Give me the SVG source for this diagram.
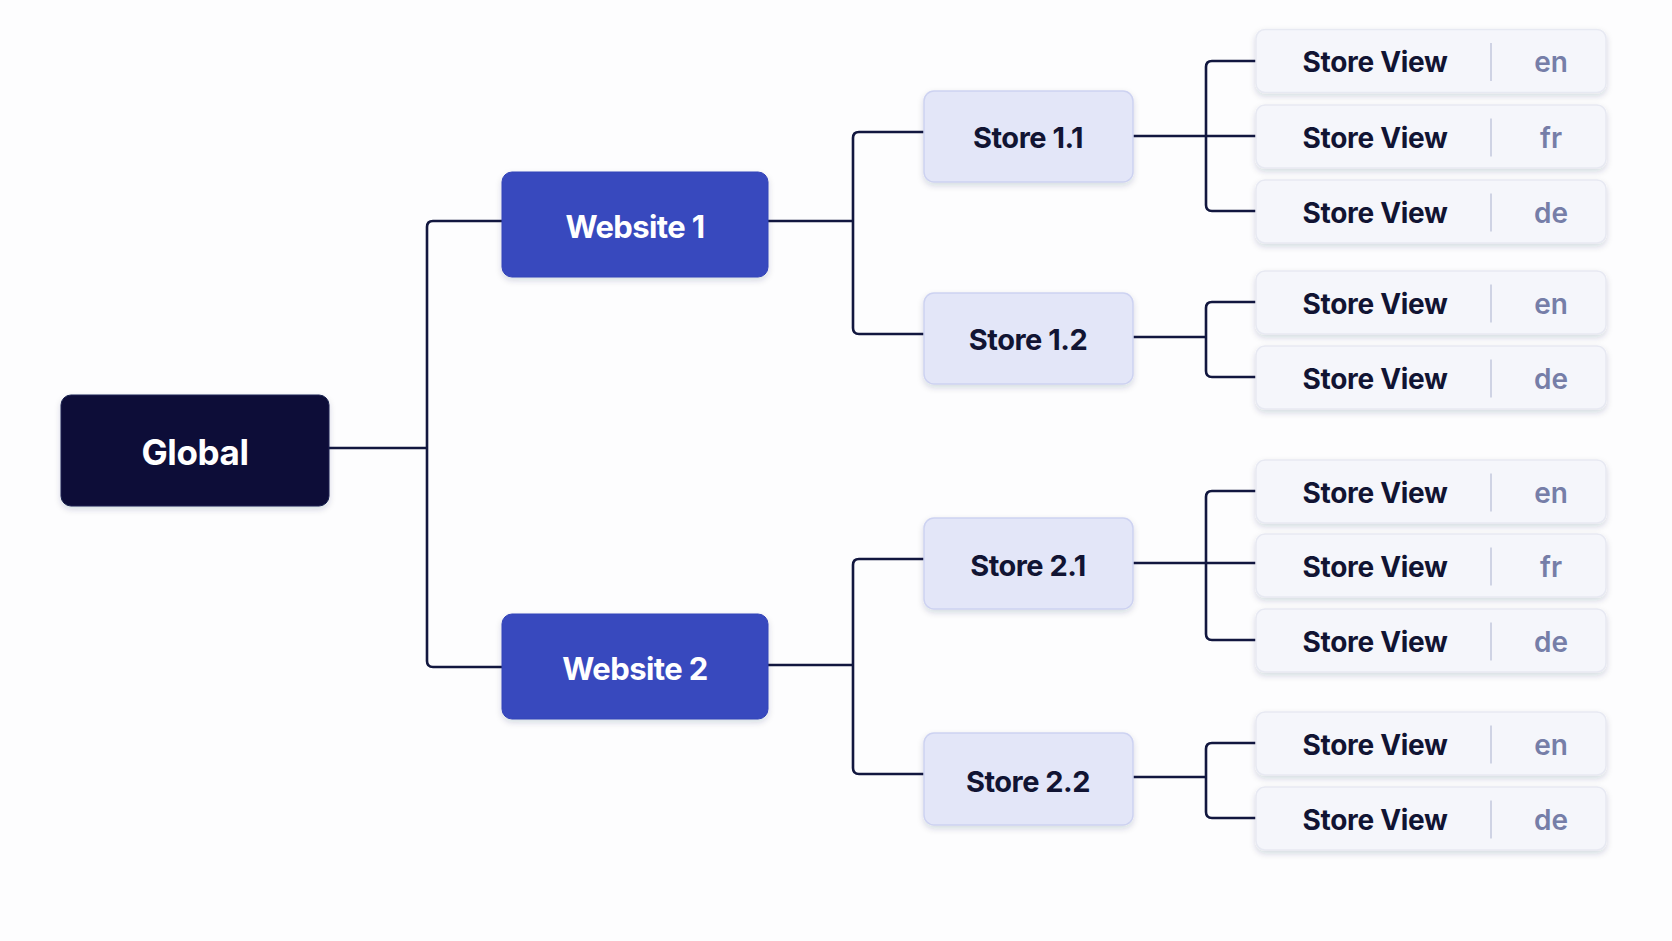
<svg xmlns="http://www.w3.org/2000/svg" width="1672" height="941" viewBox="0 0 1672 941">
<defs>
<filter id="sh" x="-10%" y="-20%" width="120%" height="150%">
<feDropShadow dx="0" dy="3" stdDeviation="3" flood-color="#1a2050" flood-opacity="0.16"/>
</filter>
</defs>
<style>
.bg{fill:#fdfdfe}
.con{fill:none;stroke:#12173f;stroke-width:2.6;stroke-linejoin:round}
.global{fill:#0b1038;stroke:#1a2050;stroke-width:1}
.web{fill:#3948be;stroke:#3344b8;stroke-width:1}
.store{fill:#e3e6f8;stroke:#cdd2f1;stroke-width:1.5}
.sv{fill:#f5f6fb;stroke:#e7e9f2;stroke-width:1.5}
.div{stroke:#cfd3e4;stroke-width:2}
text{font-family:Inter,"Liberation Sans",sans-serif;text-anchor:middle}
.tw{fill:#ffffff;font-weight:700}
.tg{font-size:35px;letter-spacing:-0.4px}
.tweb{font-size:31px;letter-spacing:-0.6px}
.ts{fill:#111433;font-size:29px;font-weight:700;letter-spacing:-0.5px}
.tsv{fill:#111433;font-size:28px;font-weight:700;letter-spacing:-0.3px}
.tl{fill:#767ea8;font-size:28px;font-weight:600}
</style>
<rect class="bg" x="0" y="0" width="1672" height="941"/>
<g id="connectors">
<path class="con" d="M329 448 H427"/>
<path class="con" d="M502 221 H433 Q427 221 427 227 V661 Q427 667 433 667 H502"/>
<path class="con" d="M768 221 H853"/>
<path class="con" d="M924 132 H859 Q853 132 853 138 V328 Q853 334 859 334 H924"/>
<path class="con" d="M768 665 H853"/>
<path class="con" d="M924 559 H859 Q853 559 853 565 V768 Q853 774 859 774 H924"/>
<path class="con" d="M1133 136 H1256"/>
<path class="con" d="M1256 61 H1212 Q1206 61 1206 67 V205 Q1206 211 1212 211 H1256"/>
<path class="con" d="M1133 337 H1206"/>
<path class="con" d="M1256 302 H1212 Q1206 302 1206 308 V371 Q1206 377 1212 377 H1256"/>
<path class="con" d="M1133 563 H1256"/>
<path class="con" d="M1256 491 H1212 Q1206 491 1206 497 V634 Q1206 640 1212 640 H1256"/>
<path class="con" d="M1133 777 H1206"/>
<path class="con" d="M1256 743 H1212 Q1206 743 1206 749 V812 Q1206 818 1212 818 H1256"/>
</g>
<g id="global">
<rect class="global" x="61" y="395" width="268" height="111" rx="10" filter="url(#sh)"/>
<text class="tw tg" x="195" y="465">Global</text>
</g>
<g id="website1">
<rect class="web" x="502" y="172" width="266" height="105" rx="10" filter="url(#sh)"/>
<text class="tw tweb" x="635" y="238">Website 1</text>
</g>
<g id="website2">
<rect class="web" x="502" y="614" width="266" height="105" rx="10" filter="url(#sh)"/>
<text class="tw tweb" x="635" y="680">Website 2</text>
</g>
<g id="store11">
<rect class="store" x="924" y="91" width="209" height="91" rx="10" filter="url(#sh)"/>
<text class="ts" x="1028" y="148">Store 1.1</text>
</g>
<g id="store12">
<rect class="store" x="924" y="293" width="209" height="91" rx="10" filter="url(#sh)"/>
<text class="ts" x="1028" y="350">Store 1.2</text>
</g>
<g id="store21">
<rect class="store" x="924" y="518" width="209" height="91" rx="10" filter="url(#sh)"/>
<text class="ts" x="1028" y="576">Store 2.1</text>
</g>
<g id="store22">
<rect class="store" x="924" y="733" width="209" height="92" rx="10" filter="url(#sh)"/>
<text class="ts" x="1028" y="792">Store 2.2</text>
</g>
<g id="sv11en">
<rect class="sv" x="1256" y="29.5" width="350" height="63" rx="9" filter="url(#sh)"/>
<line class="div" x1="1491" y1="43" x2="1491" y2="81"/>
<text class="tsv" x="1375" y="72">Store View</text>
<text class="tl" x="1551" y="72">en</text>
</g>
<g id="sv11fr">
<rect class="sv" x="1256" y="105" width="350" height="63" rx="9" filter="url(#sh)"/>
<line class="div" x1="1491" y1="118.5" x2="1491" y2="156.5"/>
<text class="tsv" x="1375" y="147.5">Store View</text>
<text class="tl" x="1551" y="147.5">fr</text>
</g>
<g id="sv11de">
<rect class="sv" x="1256" y="180" width="350" height="63" rx="9" filter="url(#sh)"/>
<line class="div" x1="1491" y1="193.5" x2="1491" y2="231.5"/>
<text class="tsv" x="1375" y="222.5">Store View</text>
<text class="tl" x="1551" y="222.5">de</text>
</g>
<g id="sv12en">
<rect class="sv" x="1256" y="271" width="350" height="63" rx="9" filter="url(#sh)"/>
<line class="div" x1="1491" y1="284.5" x2="1491" y2="322.5"/>
<text class="tsv" x="1375" y="313.5">Store View</text>
<text class="tl" x="1551" y="313.5">en</text>
</g>
<g id="sv12de">
<rect class="sv" x="1256" y="346" width="350" height="63" rx="9" filter="url(#sh)"/>
<line class="div" x1="1491" y1="359.5" x2="1491" y2="397.5"/>
<text class="tsv" x="1375" y="388.5">Store View</text>
<text class="tl" x="1551" y="388.5">de</text>
</g>
<g id="sv21en">
<rect class="sv" x="1256" y="460" width="350" height="63" rx="9" filter="url(#sh)"/>
<line class="div" x1="1491" y1="473.5" x2="1491" y2="511.5"/>
<text class="tsv" x="1375" y="502.5">Store View</text>
<text class="tl" x="1551" y="502.5">en</text>
</g>
<g id="sv21fr">
<rect class="sv" x="1256" y="534" width="350" height="63" rx="9" filter="url(#sh)"/>
<line class="div" x1="1491" y1="547.5" x2="1491" y2="585.5"/>
<text class="tsv" x="1375" y="576.5">Store View</text>
<text class="tl" x="1551" y="576.5">fr</text>
</g>
<g id="sv21de">
<rect class="sv" x="1256" y="609" width="350" height="63" rx="9" filter="url(#sh)"/>
<line class="div" x1="1491" y1="622.5" x2="1491" y2="660.5"/>
<text class="tsv" x="1375" y="651.5">Store View</text>
<text class="tl" x="1551" y="651.5">de</text>
</g>
<g id="sv22en">
<rect class="sv" x="1256" y="712" width="350" height="63" rx="9" filter="url(#sh)"/>
<line class="div" x1="1491" y1="725.5" x2="1491" y2="763.5"/>
<text class="tsv" x="1375" y="754.5">Store View</text>
<text class="tl" x="1551" y="754.5">en</text>
</g>
<g id="sv22de">
<rect class="sv" x="1256" y="787" width="350" height="63" rx="9" filter="url(#sh)"/>
<line class="div" x1="1491" y1="800.5" x2="1491" y2="838.5"/>
<text class="tsv" x="1375" y="829.5">Store View</text>
<text class="tl" x="1551" y="829.5">de</text>
</g>
</svg>
